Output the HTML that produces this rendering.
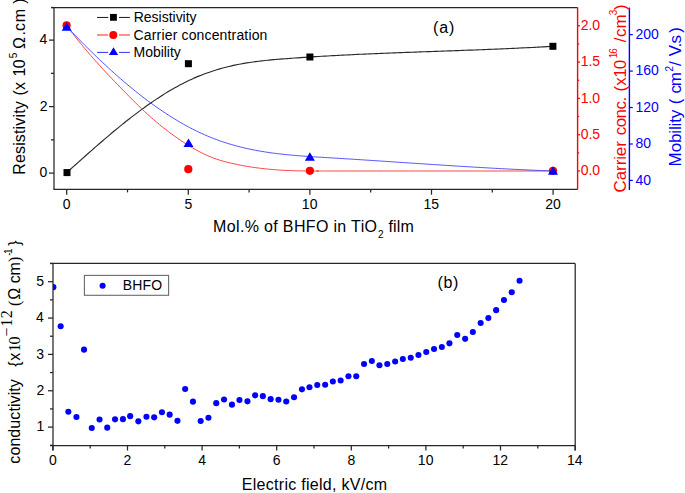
<!DOCTYPE html>
<html><head><meta charset="utf-8"><style>
html,body{margin:0;padding:0;background:#fff;overflow:hidden;}
svg{display:block;}
</style></head><body>
<svg width="685" height="493" viewBox="0 0 685 493">
<line x1="54.00" y1="7.50" x2="54.00" y2="189.40" stroke="#262626" stroke-width="1.25"/>
<line x1="51.00" y1="7.50" x2="577.60" y2="7.50" stroke="#262626" stroke-width="1.25"/>
<line x1="53.40" y1="189.40" x2="577.60" y2="189.40" stroke="#262626" stroke-width="1.25"/>
<line x1="49.00" y1="173.10" x2="54.00" y2="173.10" stroke="#262626" stroke-width="1.25"/>
<text x="39.56" y="177.40" style='font-family:"Liberation Sans",sans-serif;font-size:14px;fill:#000;'>0</text>
<line x1="51.00" y1="139.85" x2="54.00" y2="139.85" stroke="#262626" stroke-width="1.25"/>
<line x1="49.00" y1="106.60" x2="54.00" y2="106.60" stroke="#262626" stroke-width="1.25"/>
<text x="39.72" y="110.90" style='font-family:"Liberation Sans",sans-serif;font-size:14px;fill:#000;'>2</text>
<line x1="51.00" y1="73.35" x2="54.00" y2="73.35" stroke="#262626" stroke-width="1.25"/>
<line x1="49.00" y1="40.10" x2="54.00" y2="40.10" stroke="#262626" stroke-width="1.25"/>
<text x="39.42" y="44.40" style='font-family:"Liberation Sans",sans-serif;font-size:14px;fill:#000;'>4</text>
<line x1="51.00" y1="7.50" x2="54.00" y2="7.50" stroke="#262626" stroke-width="1.25"/>
<line x1="66.70" y1="189.40" x2="66.70" y2="194.70" stroke="#262626" stroke-width="1.25"/>
<text x="62.81" y="208.90" style='font-family:"Liberation Sans",sans-serif;font-size:14px;fill:#000;'>0</text>
<line x1="127.50" y1="189.40" x2="127.50" y2="192.40" stroke="#262626" stroke-width="1.25"/>
<line x1="188.30" y1="189.40" x2="188.30" y2="194.70" stroke="#262626" stroke-width="1.25"/>
<text x="184.42" y="208.90" style='font-family:"Liberation Sans",sans-serif;font-size:14px;fill:#000;'>5</text>
<line x1="249.10" y1="189.40" x2="249.10" y2="192.40" stroke="#262626" stroke-width="1.25"/>
<line x1="309.90" y1="189.40" x2="309.90" y2="194.70" stroke="#262626" stroke-width="1.25"/>
<text x="301.85" y="208.90" style='font-family:"Liberation Sans",sans-serif;font-size:14px;fill:#000;'>10</text>
<line x1="370.70" y1="189.40" x2="370.70" y2="192.40" stroke="#262626" stroke-width="1.25"/>
<line x1="431.50" y1="189.40" x2="431.50" y2="194.70" stroke="#262626" stroke-width="1.25"/>
<text x="423.47" y="208.90" style='font-family:"Liberation Sans",sans-serif;font-size:14px;fill:#000;'>15</text>
<line x1="492.30" y1="189.40" x2="492.30" y2="192.40" stroke="#262626" stroke-width="1.25"/>
<line x1="553.10" y1="189.40" x2="553.10" y2="194.70" stroke="#262626" stroke-width="1.25"/>
<text x="545.24" y="208.90" style='font-family:"Liberation Sans",sans-serif;font-size:14px;fill:#000;'>20</text>
<line x1="577.60" y1="7.40" x2="577.60" y2="189.50" stroke="#f00" stroke-width="1.4"/>
<line x1="577.60" y1="171.00" x2="580.10" y2="171.00" stroke="#f00" stroke-width="1.2"/>
<text x="580.7" y="175.20" style='font-family:"Liberation Sans",sans-serif;font-size:14px;fill:#f00;'>0.0</text>
<line x1="577.60" y1="152.85" x2="579.20" y2="152.85" stroke="#f00" stroke-width="1.2"/>
<line x1="577.60" y1="134.70" x2="580.10" y2="134.70" stroke="#f00" stroke-width="1.2"/>
<text x="580.7" y="138.90" style='font-family:"Liberation Sans",sans-serif;font-size:14px;fill:#f00;'>0.5</text>
<line x1="577.60" y1="116.55" x2="579.20" y2="116.55" stroke="#f00" stroke-width="1.2"/>
<line x1="577.60" y1="98.40" x2="580.10" y2="98.40" stroke="#f00" stroke-width="1.2"/>
<text x="580.7" y="102.60" style='font-family:"Liberation Sans",sans-serif;font-size:14px;fill:#f00;'>1.0</text>
<line x1="577.60" y1="80.25" x2="579.20" y2="80.25" stroke="#f00" stroke-width="1.2"/>
<line x1="577.60" y1="62.10" x2="580.10" y2="62.10" stroke="#f00" stroke-width="1.2"/>
<text x="580.7" y="66.30" style='font-family:"Liberation Sans",sans-serif;font-size:14px;fill:#f00;'>1.5</text>
<line x1="577.60" y1="43.95" x2="579.20" y2="43.95" stroke="#f00" stroke-width="1.2"/>
<line x1="577.60" y1="25.80" x2="580.10" y2="25.80" stroke="#f00" stroke-width="1.2"/>
<text x="580.7" y="30.00" style='font-family:"Liberation Sans",sans-serif;font-size:14px;fill:#f00;'>2.0</text>
<line x1="629.40" y1="7.60" x2="629.40" y2="190.00" stroke="#00f" stroke-width="1.4"/>
<line x1="629.40" y1="180.40" x2="632.80" y2="180.40" stroke="#00f" stroke-width="1.2"/>
<text x="635.5" y="184.60" style='font-family:"Liberation Sans",sans-serif;font-size:14px;fill:#00f;'>40</text>
<line x1="629.40" y1="144.00" x2="632.80" y2="144.00" stroke="#00f" stroke-width="1.2"/>
<text x="635.5" y="148.20" style='font-family:"Liberation Sans",sans-serif;font-size:14px;fill:#00f;'>80</text>
<line x1="629.40" y1="107.50" x2="632.80" y2="107.50" stroke="#00f" stroke-width="1.2"/>
<text x="635.5" y="111.70" style='font-family:"Liberation Sans",sans-serif;font-size:14px;fill:#00f;'>120</text>
<line x1="629.40" y1="71.10" x2="632.80" y2="71.10" stroke="#00f" stroke-width="1.2"/>
<text x="635.5" y="75.30" style='font-family:"Liberation Sans",sans-serif;font-size:14px;fill:#00f;'>160</text>
<line x1="629.40" y1="34.60" x2="632.80" y2="34.60" stroke="#00f" stroke-width="1.2"/>
<text x="635.5" y="38.80" style='font-family:"Liberation Sans",sans-serif;font-size:14px;fill:#00f;'>200</text>
<path d="M66.80,172.60 C67.30,172.15 68.80,170.80 69.80,169.89 C70.80,168.99 71.80,168.09 72.80,167.19 C73.80,166.29 74.80,165.39 75.80,164.50 C76.80,163.60 77.80,162.70 78.80,161.81 C79.80,160.91 80.80,160.02 81.80,159.12 C82.80,158.23 83.80,157.34 84.80,156.45 C85.80,155.56 86.80,154.67 87.80,153.79 C88.80,152.90 89.80,152.02 90.80,151.14 C91.80,150.26 92.80,149.38 93.80,148.50 C94.80,147.63 95.80,146.75 96.80,145.88 C97.80,145.01 98.80,144.14 99.80,143.28 C100.80,142.41 101.80,141.55 102.80,140.69 C103.80,139.83 104.80,138.98 105.80,138.12 C106.80,137.27 107.80,136.42 108.80,135.58 C109.80,134.73 110.80,133.89 111.80,133.06 C112.80,132.22 113.80,131.38 114.80,130.56 C115.80,129.73 116.80,128.90 117.80,128.08 C118.80,127.26 119.80,126.44 120.80,125.63 C121.80,124.82 122.80,124.02 123.80,123.21 C124.80,122.41 125.80,121.62 126.80,120.82 C127.80,120.03 128.80,119.25 129.80,118.47 C130.80,117.68 131.80,116.91 132.80,116.14 C133.80,115.37 134.80,114.61 135.80,113.85 C136.80,113.09 137.80,112.34 138.80,111.59 C139.80,110.84 140.80,110.10 141.80,109.37 C142.80,108.64 143.80,107.91 144.80,107.19 C145.80,106.47 146.80,105.76 147.80,105.05 C148.80,104.34 149.80,103.64 150.80,102.95 C151.80,102.26 152.80,101.57 153.80,100.89 C154.80,100.21 155.80,99.54 156.80,98.88 C157.80,98.21 158.80,97.56 159.80,96.91 C160.80,96.26 161.80,95.62 162.80,94.99 C163.80,94.36 164.80,93.73 165.80,93.12 C166.80,92.50 167.80,91.90 168.80,91.30 C169.80,90.70 170.80,90.11 171.80,89.53 C172.80,88.94 173.80,88.37 174.80,87.81 C175.80,87.25 176.80,86.69 177.80,86.15 C178.80,85.60 179.80,85.06 180.80,84.54 C181.80,84.01 182.80,83.50 183.80,82.99 C184.80,82.48 185.80,81.98 186.80,81.50 C187.80,81.01 188.80,80.53 189.80,80.07 C190.80,79.60 191.80,79.14 192.80,78.70 C193.80,78.25 194.80,77.81 195.80,77.39 C196.80,76.96 197.80,76.54 198.80,76.14 C199.80,75.73 200.80,75.33 201.80,74.94 C202.80,74.55 203.80,74.17 204.80,73.80 C205.80,73.43 206.80,73.07 207.80,72.72 C208.80,72.37 209.80,72.02 210.80,71.69 C211.80,71.36 212.80,71.03 213.80,70.71 C214.80,70.39 215.80,70.08 216.80,69.78 C217.80,69.48 218.80,69.19 219.80,68.90 C220.80,68.62 221.80,68.34 222.80,68.07 C223.80,67.80 224.80,67.54 225.80,67.28 C226.80,67.03 227.80,66.78 228.80,66.54 C229.80,66.30 230.80,66.07 231.80,65.84 C232.80,65.61 233.80,65.39 234.80,65.18 C235.80,64.97 236.80,64.76 237.80,64.56 C238.80,64.36 239.80,64.17 240.80,63.98 C241.80,63.80 242.80,63.62 243.80,63.44 C244.80,63.27 245.80,63.10 246.80,62.93 C247.80,62.77 248.80,62.61 249.80,62.46 C250.80,62.31 251.80,62.16 252.80,62.02 C253.80,61.88 254.80,61.74 255.80,61.61 C256.80,61.48 257.80,61.35 258.80,61.23 C259.80,61.11 260.80,60.99 261.80,60.88 C262.80,60.76 263.80,60.65 264.80,60.55 C265.80,60.44 266.80,60.34 267.80,60.24 C268.80,60.14 269.80,60.04 270.80,59.94 C271.80,59.85 272.80,59.76 273.80,59.67 C274.80,59.58 275.80,59.50 276.80,59.41 C277.80,59.33 278.80,59.24 279.80,59.16 C280.80,59.08 281.80,59.00 282.80,58.93 C283.80,58.85 284.80,58.77 285.80,58.70 C286.80,58.62 287.80,58.55 288.80,58.47 C289.80,58.40 290.80,58.32 291.80,58.25 C292.80,58.18 293.80,58.11 294.80,58.04 C295.80,57.97 296.80,57.90 297.80,57.83 C298.80,57.76 299.80,57.69 300.80,57.62 C301.80,57.55 302.80,57.48 303.80,57.42 C304.80,57.35 305.80,57.29 306.80,57.22 C307.80,57.16 308.80,57.09 309.80,57.03 C310.80,56.96 311.80,56.90 312.80,56.84 C313.80,56.77 314.80,56.71 315.80,56.65 C316.80,56.59 317.80,56.53 318.80,56.47 C319.80,56.41 320.80,56.35 321.80,56.29 C322.80,56.23 323.80,56.17 324.80,56.12 C325.80,56.06 326.80,56.00 327.80,55.95 C328.80,55.89 329.80,55.83 330.80,55.78 C331.80,55.72 332.80,55.67 333.80,55.61 C334.80,55.56 335.80,55.51 336.80,55.45 C337.80,55.40 338.80,55.35 339.80,55.30 C340.80,55.24 341.80,55.19 342.80,55.14 C343.80,55.09 344.80,55.04 345.80,54.99 C346.80,54.94 347.80,54.89 348.80,54.84 C349.80,54.79 350.80,54.74 351.80,54.70 C352.80,54.65 353.80,54.60 354.80,54.55 C355.80,54.51 356.80,54.46 357.80,54.41 C358.80,54.37 359.80,54.32 360.80,54.27 C361.80,54.23 362.80,54.18 363.80,54.14 C364.80,54.09 365.80,54.05 366.80,54.00 C367.80,53.96 368.80,53.92 369.80,53.87 C370.80,53.83 371.80,53.79 372.80,53.74 C373.80,53.70 374.80,53.66 375.80,53.62 C376.80,53.58 377.80,53.53 378.80,53.49 C379.80,53.45 380.80,53.41 381.80,53.37 C382.80,53.33 383.80,53.29 384.80,53.25 C385.80,53.21 386.80,53.17 387.80,53.13 C388.80,53.09 389.80,53.05 390.80,53.01 C391.80,52.97 392.80,52.93 393.80,52.89 C394.80,52.85 395.80,52.82 396.80,52.78 C397.80,52.74 398.80,52.70 399.80,52.66 C400.80,52.63 401.80,52.59 402.80,52.55 C403.80,52.51 404.80,52.48 405.80,52.44 C406.80,52.40 407.80,52.36 408.80,52.33 C409.80,52.29 410.80,52.25 411.80,52.22 C412.80,52.18 413.80,52.14 414.80,52.11 C415.80,52.07 416.80,52.04 417.80,52.00 C418.80,51.96 419.80,51.93 420.80,51.89 C421.80,51.86 422.80,51.82 423.80,51.78 C424.80,51.75 425.80,51.71 426.80,51.68 C427.80,51.64 428.80,51.61 429.80,51.57 C430.80,51.54 431.80,51.50 432.80,51.46 C433.80,51.43 434.80,51.39 435.80,51.36 C436.80,51.32 437.80,51.29 438.80,51.25 C439.80,51.22 440.80,51.18 441.80,51.15 C442.80,51.11 443.80,51.08 444.80,51.04 C445.80,51.00 446.80,50.97 447.80,50.93 C448.80,50.90 449.80,50.86 450.80,50.83 C451.80,50.79 452.80,50.75 453.80,50.72 C454.80,50.68 455.80,50.65 456.80,50.61 C457.80,50.57 458.80,50.54 459.80,50.50 C460.80,50.47 461.80,50.43 462.80,50.39 C463.80,50.36 464.80,50.32 465.80,50.28 C466.80,50.25 467.80,50.21 468.80,50.17 C469.80,50.13 470.80,50.10 471.80,50.06 C472.80,50.02 473.80,49.98 474.80,49.95 C475.80,49.91 476.80,49.87 477.80,49.83 C478.80,49.79 479.80,49.76 480.80,49.72 C481.80,49.68 482.80,49.64 483.80,49.60 C484.80,49.56 485.80,49.52 486.80,49.48 C487.80,49.44 488.80,49.40 489.80,49.36 C490.80,49.32 491.80,49.28 492.80,49.24 C493.80,49.20 494.80,49.16 495.80,49.12 C496.80,49.08 497.80,49.03 498.80,48.99 C499.80,48.95 500.80,48.91 501.80,48.86 C502.80,48.82 503.80,48.78 504.80,48.73 C505.80,48.69 506.80,48.65 507.80,48.60 C508.80,48.56 509.80,48.51 510.80,48.47 C511.80,48.42 512.80,48.38 513.80,48.33 C514.80,48.29 515.80,48.24 516.80,48.20 C517.80,48.15 518.80,48.10 519.80,48.05 C520.80,48.01 521.80,47.96 522.80,47.91 C523.80,47.86 524.80,47.81 525.80,47.76 C526.80,47.72 527.80,47.67 528.80,47.62 C529.80,47.57 530.80,47.52 531.80,47.46 C532.80,47.41 533.80,47.36 534.80,47.31 C535.80,47.26 536.80,47.20 537.80,47.15 C538.80,47.10 539.80,47.04 540.80,46.99 C541.80,46.94 542.80,46.88 543.80,46.83 C544.80,46.77 545.80,46.71 546.80,46.66 C547.80,46.60 548.80,46.54 549.80,46.49 C550.80,46.43 552.27,46.34 552.80,46.31 C553.33,46.28 552.97,46.30 553.00,46.30" fill="none" stroke="#2a2a2a" stroke-width="1.15"/>
<path d="M66.60,25.40 C67.10,26.07 68.60,28.10 69.60,29.43 C70.60,30.75 71.60,32.06 72.60,33.36 C73.60,34.66 74.60,35.94 75.60,37.21 C76.60,38.48 77.60,39.74 78.60,40.98 C79.60,42.22 80.60,43.45 81.60,44.67 C82.60,45.89 83.60,47.10 84.60,48.29 C85.60,49.49 86.60,50.67 87.60,51.84 C88.60,53.01 89.60,54.18 90.60,55.33 C91.60,56.48 92.60,57.62 93.60,58.76 C94.60,59.89 95.60,61.01 96.60,62.13 C97.60,63.24 98.60,64.35 99.60,65.45 C100.60,66.55 101.60,67.64 102.60,68.73 C103.60,69.81 104.60,70.89 105.60,71.96 C106.60,73.04 107.60,74.10 108.60,75.16 C109.60,76.22 110.60,77.28 111.60,78.33 C112.60,79.38 113.60,80.42 114.60,81.47 C115.60,82.51 116.60,83.54 117.60,84.58 C118.60,85.61 119.60,86.64 120.60,87.67 C121.60,88.70 122.60,89.73 123.60,90.75 C124.60,91.78 125.60,92.80 126.60,93.82 C127.60,94.84 128.60,95.85 129.60,96.87 C130.60,97.88 131.60,98.88 132.60,99.88 C133.60,100.88 134.60,101.88 135.60,102.87 C136.60,103.85 137.60,104.84 138.60,105.81 C139.60,106.78 140.60,107.74 141.60,108.70 C142.60,109.65 143.60,110.60 144.60,111.53 C145.60,112.47 146.60,113.39 147.60,114.30 C148.60,115.21 149.60,116.11 150.60,117.00 C151.60,117.89 152.60,118.76 153.60,119.62 C154.60,120.49 155.60,121.34 156.60,122.17 C157.60,123.01 158.60,123.84 159.60,124.66 C160.60,125.47 161.60,126.28 162.60,127.08 C163.60,127.87 164.60,128.66 165.60,129.43 C166.60,130.21 167.60,130.98 168.60,131.74 C169.60,132.50 170.60,133.25 171.60,133.99 C172.60,134.73 173.60,135.45 174.60,136.17 C175.60,136.89 176.60,137.60 177.60,138.29 C178.60,138.99 179.60,139.67 180.60,140.35 C181.60,141.02 182.60,141.69 183.60,142.34 C184.60,142.99 185.60,143.63 186.60,144.26 C187.60,144.89 188.60,145.51 189.60,146.11 C190.60,146.72 191.60,147.31 192.60,147.90 C193.60,148.48 194.60,149.05 195.60,149.61 C196.60,150.17 197.60,150.72 198.60,151.26 C199.60,151.79 200.60,152.31 201.60,152.82 C202.60,153.33 203.60,153.82 204.60,154.29 C205.60,154.77 206.60,155.23 207.60,155.67 C208.60,156.11 209.60,156.53 210.60,156.93 C211.60,157.34 212.60,157.72 213.60,158.09 C214.60,158.46 215.60,158.81 216.60,159.15 C217.60,159.48 218.60,159.80 219.60,160.11 C220.60,160.42 221.60,160.71 222.60,161.00 C223.60,161.28 224.60,161.55 225.60,161.82 C226.60,162.08 227.60,162.33 228.60,162.58 C229.60,162.82 230.60,163.06 231.60,163.29 C232.60,163.52 233.60,163.75 234.60,163.97 C235.60,164.19 236.60,164.40 237.60,164.60 C238.60,164.81 239.60,165.01 240.60,165.20 C241.60,165.40 242.60,165.58 243.60,165.76 C244.60,165.95 245.60,166.12 246.60,166.29 C247.60,166.46 248.60,166.62 249.60,166.78 C250.60,166.94 251.60,167.09 252.60,167.24 C253.60,167.39 254.60,167.53 255.60,167.67 C256.60,167.80 257.60,167.93 258.60,168.06 C259.60,168.19 260.60,168.31 261.60,168.42 C262.60,168.54 263.60,168.65 264.60,168.76 C265.60,168.87 266.60,168.97 267.60,169.07 C268.60,169.16 269.60,169.26 270.60,169.35 C271.60,169.44 272.60,169.52 273.60,169.60 C274.60,169.68 275.60,169.76 276.60,169.83 C277.60,169.90 278.60,169.97 279.60,170.04 C280.60,170.10 281.60,170.16 282.60,170.22 C283.60,170.28 284.60,170.33 285.60,170.38 C286.60,170.43 287.60,170.48 288.60,170.52 C289.60,170.56 290.60,170.60 291.60,170.64 C292.60,170.68 293.60,170.71 294.60,170.74 C295.60,170.77 296.60,170.80 297.60,170.83 C298.60,170.85 299.60,170.87 300.60,170.89 C301.60,170.91 302.60,170.93 303.60,170.95 C304.60,170.96 305.60,170.98 306.60,170.99 C307.60,171.00 308.60,171.01 309.60,171.01 C310.60,171.02 311.60,171.02 312.60,171.03 C313.60,171.03 314.60,171.03 315.60,171.03 C316.60,171.03 317.87,171.02 318.60,171.02 C319.33,171.02 313.10,171.02 320.00,171.01 C326.90,171.01 321.17,171.00 360.00,171.00 C398.83,171.00 520.83,171.00 553.00,171.00" fill="none" stroke="#ff3030" stroke-width="0.9"/>
<path d="M66.70,26.50 C67.20,27.03 68.70,28.62 69.70,29.67 C70.70,30.72 71.70,31.77 72.70,32.81 C73.70,33.86 74.70,34.89 75.70,35.93 C76.70,36.96 77.70,37.99 78.70,39.01 C79.70,40.04 80.70,41.06 81.70,42.07 C82.70,43.08 83.70,44.09 84.70,45.10 C85.70,46.10 86.70,47.10 87.70,48.09 C88.70,49.09 89.70,50.07 90.70,51.06 C91.70,52.04 92.70,53.02 93.70,53.99 C94.70,54.96 95.70,55.93 96.70,56.89 C97.70,57.85 98.70,58.81 99.70,59.76 C100.70,60.71 101.70,61.66 102.70,62.59 C103.70,63.53 104.70,64.47 105.70,65.40 C106.70,66.32 107.70,67.24 108.70,68.16 C109.70,69.08 110.70,69.99 111.70,70.89 C112.70,71.80 113.70,72.69 114.70,73.59 C115.70,74.48 116.70,75.36 117.70,76.24 C118.70,77.12 119.70,78.00 120.70,78.87 C121.70,79.73 122.70,80.59 123.70,81.45 C124.70,82.30 125.70,83.15 126.70,83.99 C127.70,84.84 128.70,85.67 129.70,86.50 C130.70,87.33 131.70,88.15 132.70,88.97 C133.70,89.78 134.70,90.59 135.70,91.39 C136.70,92.20 137.70,92.99 138.70,93.78 C139.70,94.57 140.70,95.35 141.70,96.13 C142.70,96.90 143.70,97.67 144.70,98.43 C145.70,99.19 146.70,99.94 147.70,100.69 C148.70,101.44 149.70,102.18 150.70,102.91 C151.70,103.64 152.70,104.37 153.70,105.08 C154.70,105.80 155.70,106.51 156.70,107.21 C157.70,107.92 158.70,108.61 159.70,109.30 C160.70,109.99 161.70,110.67 162.70,111.34 C163.70,112.01 164.70,112.68 165.70,113.33 C166.70,113.99 167.70,114.64 168.70,115.28 C169.70,115.92 170.70,116.56 171.70,117.18 C172.70,117.81 173.70,118.42 174.70,119.03 C175.70,119.64 176.70,120.25 177.70,120.84 C178.70,121.43 179.70,122.02 180.70,122.59 C181.70,123.17 182.70,123.74 183.70,124.30 C184.70,124.86 185.70,125.41 186.70,125.96 C187.70,126.50 188.70,127.04 189.70,127.56 C190.70,128.09 191.70,128.61 192.70,129.12 C193.70,129.62 194.70,130.13 195.70,130.62 C196.70,131.11 197.70,131.59 198.70,132.07 C199.70,132.54 200.70,133.01 201.70,133.46 C202.70,133.92 203.70,134.37 204.70,134.81 C205.70,135.25 206.70,135.68 207.70,136.10 C208.70,136.52 209.70,136.93 210.70,137.34 C211.70,137.74 212.70,138.14 213.70,138.53 C214.70,138.91 215.70,139.29 216.70,139.66 C217.70,140.03 218.70,140.39 219.70,140.75 C220.70,141.10 221.70,141.45 222.70,141.79 C223.70,142.12 224.70,142.45 225.70,142.77 C226.70,143.10 227.70,143.41 228.70,143.72 C229.70,144.02 230.70,144.32 231.70,144.61 C232.70,144.90 233.70,145.19 234.70,145.46 C235.70,145.74 236.70,146.01 237.70,146.27 C238.70,146.54 239.70,146.79 240.70,147.04 C241.70,147.29 242.70,147.54 243.70,147.77 C244.70,148.01 245.70,148.24 246.70,148.46 C247.70,148.69 248.70,148.90 249.70,149.12 C250.70,149.33 251.70,149.53 252.70,149.73 C253.70,149.93 254.70,150.13 255.70,150.32 C256.70,150.51 257.70,150.69 258.70,150.87 C259.70,151.04 260.70,151.22 261.70,151.39 C262.70,151.55 263.70,151.72 264.70,151.87 C265.70,152.03 266.70,152.19 267.70,152.33 C268.70,152.48 269.70,152.63 270.70,152.77 C271.70,152.91 272.70,153.04 273.70,153.17 C274.70,153.31 275.70,153.43 276.70,153.56 C277.70,153.68 278.70,153.80 279.70,153.92 C280.70,154.03 281.70,154.15 282.70,154.25 C283.70,154.36 284.70,154.47 285.70,154.57 C286.70,154.67 287.70,154.77 288.70,154.87 C289.70,154.97 290.70,155.06 291.70,155.15 C292.70,155.24 293.70,155.33 294.70,155.42 C295.70,155.50 296.70,155.59 297.70,155.67 C298.70,155.75 299.70,155.83 300.70,155.90 C301.70,155.98 302.70,156.06 303.70,156.13 C304.70,156.20 305.70,156.27 306.70,156.34 C307.70,156.41 308.70,156.48 309.70,156.55 C310.70,156.62 311.70,156.68 312.70,156.75 C313.70,156.81 314.70,156.87 315.70,156.94 C316.70,157.00 317.70,157.06 318.70,157.12 C319.70,157.19 320.70,157.25 321.70,157.31 C322.70,157.37 323.70,157.43 324.70,157.49 C325.70,157.55 326.70,157.61 327.70,157.67 C328.70,157.73 329.70,157.79 330.70,157.85 C331.70,157.91 332.70,157.97 333.70,158.03 C334.70,158.09 335.70,158.15 336.70,158.21 C337.70,158.27 338.70,158.34 339.70,158.40 C340.70,158.46 341.70,158.52 342.70,158.58 C343.70,158.65 344.70,158.71 345.70,158.77 C346.70,158.84 347.70,158.90 348.70,158.96 C349.70,159.03 350.70,159.09 351.70,159.15 C352.70,159.22 353.70,159.28 354.70,159.34 C355.70,159.41 356.70,159.47 357.70,159.54 C358.70,159.60 359.70,159.67 360.70,159.73 C361.70,159.80 362.70,159.86 363.70,159.93 C364.70,159.99 365.70,160.06 366.70,160.12 C367.70,160.19 368.70,160.25 369.70,160.32 C370.70,160.38 371.70,160.45 372.70,160.51 C373.70,160.58 374.70,160.65 375.70,160.71 C376.70,160.78 377.70,160.84 378.70,160.91 C379.70,160.98 380.70,161.04 381.70,161.11 C382.70,161.18 383.70,161.24 384.70,161.31 C385.70,161.38 386.70,161.44 387.70,161.51 C388.70,161.58 389.70,161.64 390.70,161.71 C391.70,161.78 392.70,161.84 393.70,161.91 C394.70,161.98 395.70,162.04 396.70,162.11 C397.70,162.18 398.70,162.24 399.70,162.31 C400.70,162.38 401.70,162.44 402.70,162.51 C403.70,162.58 404.70,162.65 405.70,162.71 C406.70,162.78 407.70,162.85 408.70,162.91 C409.70,162.98 410.70,163.05 411.70,163.11 C412.70,163.18 413.70,163.25 414.70,163.31 C415.70,163.38 416.70,163.45 417.70,163.51 C418.70,163.58 419.70,163.65 420.70,163.71 C421.70,163.78 422.70,163.84 423.70,163.91 C424.70,163.98 425.70,164.04 426.70,164.11 C427.70,164.18 428.70,164.24 429.70,164.31 C430.70,164.37 431.70,164.44 432.70,164.50 C433.70,164.57 434.70,164.63 435.70,164.70 C436.70,164.77 437.70,164.83 438.70,164.90 C439.70,164.96 440.70,165.03 441.70,165.09 C442.70,165.15 443.70,165.22 444.70,165.28 C445.70,165.35 446.70,165.41 447.70,165.48 C448.70,165.54 449.70,165.60 450.70,165.67 C451.70,165.73 452.70,165.79 453.70,165.86 C454.70,165.92 455.70,165.98 456.70,166.05 C457.70,166.11 458.70,166.17 459.70,166.23 C460.70,166.30 461.70,166.36 462.70,166.42 C463.70,166.48 464.70,166.54 465.70,166.60 C466.70,166.67 467.70,166.73 468.70,166.79 C469.70,166.85 470.70,166.91 471.70,166.97 C472.70,167.03 473.70,167.09 474.70,167.15 C475.70,167.21 476.70,167.27 477.70,167.33 C478.70,167.39 479.70,167.44 480.70,167.50 C481.70,167.56 482.70,167.62 483.70,167.68 C484.70,167.73 485.70,167.79 486.70,167.85 C487.70,167.91 488.70,167.96 489.70,168.02 C490.70,168.08 491.70,168.13 492.70,168.19 C493.70,168.24 494.70,168.30 495.70,168.35 C496.70,168.41 497.70,168.46 498.70,168.52 C499.70,168.57 500.70,168.62 501.70,168.68 C502.70,168.73 503.70,168.78 504.70,168.84 C505.70,168.89 506.70,168.94 507.70,168.99 C508.70,169.04 509.70,169.10 510.70,169.15 C511.70,169.20 512.70,169.25 513.70,169.30 C514.70,169.35 515.70,169.40 516.70,169.45 C517.70,169.49 518.70,169.54 519.70,169.59 C520.70,169.64 521.70,169.69 522.70,169.73 C523.70,169.78 524.70,169.83 525.70,169.87 C526.70,169.92 527.70,169.97 528.70,170.01 C529.70,170.06 530.70,170.10 531.70,170.14 C532.70,170.19 533.70,170.23 534.70,170.28 C535.70,170.32 536.70,170.36 537.70,170.40 C538.70,170.44 539.70,170.49 540.70,170.53 C541.70,170.57 542.70,170.61 543.70,170.65 C544.70,170.69 545.70,170.73 546.70,170.76 C547.70,170.80 548.70,170.84 549.70,170.88 C550.70,170.92 552.15,170.97 552.70,170.99 C553.25,171.01 552.95,171.00 553.00,171.00" fill="none" stroke="#4040ff" stroke-width="0.9"/>
<rect x="63.50" y="169.10" width="7" height="7" fill="#000"/>
<rect x="184.90" y="60.20" width="7" height="7" fill="#000"/>
<rect x="306.40" y="53.50" width="7" height="7" fill="#000"/>
<rect x="549.40" y="42.80" width="7" height="7" fill="#000"/>
<circle cx="66.60" cy="25.40" r="4.1" fill="#f00"/>
<circle cx="188.30" cy="169.20" r="4.1" fill="#f00"/>
<circle cx="309.90" cy="170.80" r="4.1" fill="#f00"/>
<circle cx="553.00" cy="170.80" r="4.1" fill="#f00"/>
<path d="M66.70,22.30 L71.70,30.70 L61.70,30.70 Z" fill="#00f"/>
<path d="M188.50,138.60 L193.50,147.00 L183.50,147.00 Z" fill="#00f"/>
<path d="M309.90,152.30 L314.90,160.70 L304.90,160.70 Z" fill="#00f"/>
<path d="M553.00,166.30 L558.00,174.70 L548.00,174.70 Z" fill="#00f"/>
<line x1="97.05" y1="17.45" x2="108.20" y2="17.45" stroke="#1a1a1a" stroke-width="1"/>
<line x1="119.00" y1="17.45" x2="129.90" y2="17.45" stroke="#1a1a1a" stroke-width="1"/>
<rect x="110.05" y="13.95" width="6.8" height="6.8" fill="#000"/>
<line x1="97.05" y1="35.00" x2="108.20" y2="35.00" stroke="#ff2020" stroke-width="1"/>
<line x1="119.00" y1="35.00" x2="129.90" y2="35.00" stroke="#ff2020" stroke-width="1"/>
<circle cx="113.30" cy="34.95" r="4.0" fill="#f00"/>
<line x1="97.05" y1="52.40" x2="108.20" y2="52.40" stroke="#3030ff" stroke-width="1"/>
<line x1="119.00" y1="52.40" x2="129.90" y2="52.40" stroke="#3030ff" stroke-width="1"/>
<path d="M113.50,47.30 L118.15,55.10 L108.85,55.10 Z" fill="#00f"/>
<text x="133.65" y="21.80" style='font-family:"Liberation Sans",sans-serif;font-size:14px;fill:#000;letter-spacing:-0.003px;'>Resistivity</text>
<text x="133.59" y="39.55" style='font-family:"Liberation Sans",sans-serif;font-size:14px;fill:#000;letter-spacing:0.155px;'>Carrier concentration</text>
<text x="133.55" y="57.30" style='font-family:"Liberation Sans",sans-serif;font-size:14px;fill:#000;letter-spacing:-0.026px;'>Mobility</text>
<text x="432.91" y="32.50" style='font-family:"Liberation Sans",sans-serif;font-size:16px;fill:#000;letter-spacing:0.965px;'>(a)</text>
<text x="213.09" y="231.50" style='font-family:"Liberation Sans",sans-serif;font-size:16px;fill:#000;letter-spacing:0.344px;'>Mol.% of BHFO in TiO</text>
<text x="378.00" y="237.60" style='font-family:"Liberation Sans",sans-serif;font-size:10px;fill:#000;'>2</text>
<text x="388.57" y="231.50" style='font-family:"Liberation Sans",sans-serif;font-size:16px;fill:#000;letter-spacing:0.099px;'>film</text>
<text transform="translate(25.00,174.71) rotate(-90)" style='font-family:"Liberation Sans",sans-serif;font-size:16px;fill:#000;letter-spacing:0.144px;'>Resistivity</text>
<text transform="translate(25.00,95.49) rotate(-90)" style='font-family:"Liberation Sans",sans-serif;font-size:16px;fill:#000;'>(</text>
<text transform="translate(25.00,89.88) rotate(-90)" style='font-family:"Liberation Sans",sans-serif;font-size:16px;fill:#000;'>x</text>
<text transform="translate(25.00,76.52) rotate(-90)" style='font-family:"Liberation Sans",sans-serif;font-size:16px;fill:#000;letter-spacing:-0.653px;'>10</text>
<text transform="translate(17.10,58.20) rotate(-90)" style='font-family:"Liberation Sans",sans-serif;font-size:10px;fill:#000;'>5</text>
<text transform="translate(25.00,48.98) rotate(-90)" style='font-family:"Liberation Sans",sans-serif;font-size:16px;fill:#000;'>Ω</text>
<text transform="translate(25.00,35.46) rotate(-90)" style='font-family:"Liberation Sans",sans-serif;font-size:16px;fill:#000;'>.</text>
<text transform="translate(25.00,31.08) rotate(-90)" style='font-family:"Liberation Sans",sans-serif;font-size:16px;fill:#000;letter-spacing:0.806px;'>cm</text>
<text transform="translate(25.00,3.69) rotate(-90)" style='font-family:"Liberation Sans",sans-serif;font-size:16px;fill:#000;'>)</text>
<text transform="translate(625.60,192.46) rotate(-90)" style='font-family:"Liberation Sans",sans-serif;font-size:17px;fill:#f00;letter-spacing:-0.100px;'>Carrier</text>
<text transform="translate(625.60,135.32) rotate(-90)" style='font-family:"Liberation Sans",sans-serif;font-size:17px;fill:#f00;letter-spacing:-0.514px;'>conc.</text>
<text transform="translate(625.60,91.55) rotate(-90)" style='font-family:"Liberation Sans",sans-serif;font-size:17px;fill:#f00;'>(</text>
<text transform="translate(625.60,85.69) rotate(-90)" style='font-family:"Liberation Sans",sans-serif;font-size:17px;fill:#f00;'>x</text>
<text transform="translate(625.60,77.79) rotate(-90)" style='font-family:"Liberation Sans",sans-serif;font-size:17px;fill:#f00;letter-spacing:-0.850px;'>10</text>
<text transform="translate(617.20,58.36) rotate(-90)" style='font-family:"Liberation Sans",sans-serif;font-size:10px;fill:#f00;letter-spacing:-1.022px;'>16</text>
<text transform="translate(625.60,42.30) rotate(-90)" style='font-family:"Liberation Sans",sans-serif;font-size:17px;fill:#f00;'>/</text>
<text transform="translate(625.60,36.92) rotate(-90)" style='font-family:"Liberation Sans",sans-serif;font-size:17px;fill:#f00;letter-spacing:-0.118px;'>cm</text>
<text transform="translate(617.20,15.28) rotate(-90)" style='font-family:"Liberation Sans",sans-serif;font-size:10px;fill:#f00;'>3</text>
<text transform="translate(625.60,9.90) rotate(-90)" style='font-family:"Liberation Sans",sans-serif;font-size:17px;fill:#f00;'>)</text>
<text transform="translate(681.00,166.39) rotate(-90)" style='font-family:"Liberation Sans",sans-serif;font-size:17px;fill:#00f;letter-spacing:-0.128px;'>Mobility</text>
<text transform="translate(681.00,104.15) rotate(-90)" style='font-family:"Liberation Sans",sans-serif;font-size:17px;fill:#00f;'>(</text>
<text transform="translate(681.00,93.42) rotate(-90)" style='font-family:"Liberation Sans",sans-serif;font-size:17px;fill:#00f;letter-spacing:-1.418px;'>cm</text>
<text transform="translate(673.00,71.50) rotate(-90)" style='font-family:"Liberation Sans",sans-serif;font-size:10px;fill:#00f;'>2</text>
<text transform="translate(681.00,65.90) rotate(-90)" style='font-family:"Liberation Sans",sans-serif;font-size:17px;fill:#00f;'>/</text>
<text transform="translate(681.00,56.27) rotate(-90)" style='font-family:"Liberation Sans",sans-serif;font-size:17px;fill:#00f;letter-spacing:-0.887px;'>V.s</text>
<text transform="translate(681.00,32.80) rotate(-90)" style='font-family:"Liberation Sans",sans-serif;font-size:17px;fill:#00f;'>)</text>
<line x1="53.00" y1="263.40" x2="53.00" y2="450.50" stroke="#262626" stroke-width="1.25"/>
<line x1="50.00" y1="445.50" x2="575.20" y2="445.50" stroke="#262626" stroke-width="1.25"/>
<line x1="50.00" y1="263.40" x2="575.20" y2="263.40" stroke="#262626" stroke-width="1.25"/>
<line x1="575.20" y1="263.40" x2="575.20" y2="450.50" stroke="#262626" stroke-width="1.25"/>
<line x1="50.00" y1="445.27" x2="53.00" y2="445.27" stroke="#262626" stroke-width="1.25"/>
<line x1="48.00" y1="427.10" x2="53.00" y2="427.10" stroke="#262626" stroke-width="1.25"/>
<text x="36.40" y="431.40" style='font-family:"Liberation Sans",sans-serif;font-size:14px;fill:#000;'>1</text>
<line x1="50.00" y1="408.93" x2="53.00" y2="408.93" stroke="#262626" stroke-width="1.25"/>
<line x1="48.00" y1="390.75" x2="53.00" y2="390.75" stroke="#262626" stroke-width="1.25"/>
<text x="36.42" y="395.05" style='font-family:"Liberation Sans",sans-serif;font-size:14px;fill:#000;'>2</text>
<line x1="50.00" y1="372.57" x2="53.00" y2="372.57" stroke="#262626" stroke-width="1.25"/>
<line x1="48.00" y1="354.40" x2="53.00" y2="354.40" stroke="#262626" stroke-width="1.25"/>
<text x="36.33" y="358.70" style='font-family:"Liberation Sans",sans-serif;font-size:14px;fill:#000;'>3</text>
<line x1="50.00" y1="336.23" x2="53.00" y2="336.23" stroke="#262626" stroke-width="1.25"/>
<line x1="48.00" y1="318.05" x2="53.00" y2="318.05" stroke="#262626" stroke-width="1.25"/>
<text x="36.12" y="322.35" style='font-family:"Liberation Sans",sans-serif;font-size:14px;fill:#000;'>4</text>
<line x1="50.00" y1="299.88" x2="53.00" y2="299.88" stroke="#262626" stroke-width="1.25"/>
<line x1="48.00" y1="281.70" x2="53.00" y2="281.70" stroke="#262626" stroke-width="1.25"/>
<text x="36.30" y="286.00" style='font-family:"Liberation Sans",sans-serif;font-size:14px;fill:#000;'>5</text>
<line x1="50.00" y1="263.52" x2="53.00" y2="263.52" stroke="#262626" stroke-width="1.25"/>
<line x1="52.90" y1="445.50" x2="52.90" y2="450.50" stroke="#262626" stroke-width="1.25"/>
<text x="49.01" y="464.50" style='font-family:"Liberation Sans",sans-serif;font-size:14px;fill:#000;'>0</text>
<line x1="90.20" y1="445.50" x2="90.20" y2="448.50" stroke="#262626" stroke-width="1.25"/>
<line x1="127.50" y1="445.50" x2="127.50" y2="450.50" stroke="#262626" stroke-width="1.25"/>
<text x="123.61" y="464.50" style='font-family:"Liberation Sans",sans-serif;font-size:14px;fill:#000;'>2</text>
<line x1="164.80" y1="445.50" x2="164.80" y2="448.50" stroke="#262626" stroke-width="1.25"/>
<line x1="202.10" y1="445.50" x2="202.10" y2="450.50" stroke="#262626" stroke-width="1.25"/>
<text x="198.25" y="464.50" style='font-family:"Liberation Sans",sans-serif;font-size:14px;fill:#000;'>4</text>
<line x1="239.40" y1="445.50" x2="239.40" y2="448.50" stroke="#262626" stroke-width="1.25"/>
<line x1="276.70" y1="445.50" x2="276.70" y2="450.50" stroke="#262626" stroke-width="1.25"/>
<text x="272.76" y="464.50" style='font-family:"Liberation Sans",sans-serif;font-size:14px;fill:#000;'>6</text>
<line x1="314.00" y1="445.50" x2="314.00" y2="448.50" stroke="#262626" stroke-width="1.25"/>
<line x1="351.30" y1="445.50" x2="351.30" y2="450.50" stroke="#262626" stroke-width="1.25"/>
<text x="347.41" y="464.50" style='font-family:"Liberation Sans",sans-serif;font-size:14px;fill:#000;'>8</text>
<line x1="388.60" y1="445.50" x2="388.60" y2="448.50" stroke="#262626" stroke-width="1.25"/>
<line x1="425.90" y1="445.50" x2="425.90" y2="450.50" stroke="#262626" stroke-width="1.25"/>
<text x="417.85" y="464.50" style='font-family:"Liberation Sans",sans-serif;font-size:14px;fill:#000;'>10</text>
<line x1="463.20" y1="445.50" x2="463.20" y2="448.50" stroke="#262626" stroke-width="1.25"/>
<line x1="500.50" y1="445.50" x2="500.50" y2="450.50" stroke="#262626" stroke-width="1.25"/>
<text x="492.53" y="464.50" style='font-family:"Liberation Sans",sans-serif;font-size:14px;fill:#000;'>12</text>
<line x1="537.80" y1="445.50" x2="537.80" y2="448.50" stroke="#262626" stroke-width="1.25"/>
<line x1="575.10" y1="445.50" x2="575.10" y2="450.50" stroke="#262626" stroke-width="1.25"/>
<text x="566.99" y="464.50" style='font-family:"Liberation Sans",sans-serif;font-size:14px;fill:#000;'>14</text>
<clipPath id="cp"><rect x="53.0" y="263.4" width="522.2" height="182.10000000000002"/></clipPath>
<g clip-path="url(#cp)">
<circle cx="53.35" cy="287.15" r="3.05" fill="#00f"/>
<circle cx="60.65" cy="326.25" r="3.05" fill="#00f"/>
<circle cx="68.35" cy="411.75" r="3.05" fill="#00f"/>
<circle cx="76.45" cy="417.05" r="3.05" fill="#00f"/>
<circle cx="84.05" cy="349.65" r="3.05" fill="#00f"/>
<circle cx="91.75" cy="427.95" r="3.05" fill="#00f"/>
<circle cx="99.55" cy="419.45" r="3.05" fill="#00f"/>
<circle cx="107.25" cy="427.65" r="3.05" fill="#00f"/>
<circle cx="115.05" cy="419.35" r="3.05" fill="#00f"/>
<circle cx="122.95" cy="419.15" r="3.05" fill="#00f"/>
<circle cx="130.15" cy="416.15" r="3.05" fill="#00f"/>
<circle cx="138.35" cy="421.35" r="3.05" fill="#00f"/>
<circle cx="146.45" cy="416.75" r="3.05" fill="#00f"/>
<circle cx="154.15" cy="417.35" r="3.05" fill="#00f"/>
<circle cx="161.95" cy="412.25" r="3.05" fill="#00f"/>
<circle cx="169.65" cy="414.65" r="3.05" fill="#00f"/>
<circle cx="177.45" cy="420.85" r="3.05" fill="#00f"/>
<circle cx="185.15" cy="389.05" r="3.05" fill="#00f"/>
<circle cx="192.95" cy="401.65" r="3.05" fill="#00f"/>
<circle cx="200.65" cy="420.95" r="3.05" fill="#00f"/>
<circle cx="208.45" cy="417.75" r="3.05" fill="#00f"/>
<circle cx="216.25" cy="403.15" r="3.05" fill="#00f"/>
<circle cx="224.05" cy="399.45" r="3.05" fill="#00f"/>
<circle cx="231.95" cy="404.65" r="3.05" fill="#00f"/>
<circle cx="239.45" cy="400.05" r="3.05" fill="#00f"/>
<circle cx="247.45" cy="401.35" r="3.05" fill="#00f"/>
<circle cx="255.15" cy="395.35" r="3.05" fill="#00f"/>
<circle cx="262.85" cy="396.15" r="3.05" fill="#00f"/>
<circle cx="270.65" cy="399.15" r="3.05" fill="#00f"/>
<circle cx="278.45" cy="399.75" r="3.05" fill="#00f"/>
<circle cx="286.25" cy="401.45" r="3.05" fill="#00f"/>
<circle cx="294.05" cy="397.25" r="3.05" fill="#00f"/>
<circle cx="301.95" cy="389.35" r="3.05" fill="#00f"/>
<circle cx="309.45" cy="387.25" r="3.05" fill="#00f"/>
<circle cx="317.25" cy="384.95" r="3.05" fill="#00f"/>
<circle cx="325.15" cy="384.75" r="3.05" fill="#00f"/>
<circle cx="332.85" cy="381.55" r="3.05" fill="#00f"/>
<circle cx="340.65" cy="380.45" r="3.05" fill="#00f"/>
<circle cx="348.45" cy="376.25" r="3.05" fill="#00f"/>
<circle cx="356.25" cy="376.25" r="3.05" fill="#00f"/>
<circle cx="364.05" cy="363.95" r="3.05" fill="#00f"/>
<circle cx="371.85" cy="361.05" r="3.05" fill="#00f"/>
<circle cx="379.45" cy="365.25" r="3.05" fill="#00f"/>
<circle cx="387.25" cy="363.95" r="3.05" fill="#00f"/>
<circle cx="395.15" cy="361.55" r="3.05" fill="#00f"/>
<circle cx="402.85" cy="359.05" r="3.05" fill="#00f"/>
<circle cx="410.75" cy="357.75" r="3.05" fill="#00f"/>
<circle cx="418.45" cy="355.05" r="3.05" fill="#00f"/>
<circle cx="426.25" cy="351.95" r="3.05" fill="#00f"/>
<circle cx="434.05" cy="349.05" r="3.05" fill="#00f"/>
<circle cx="441.85" cy="346.95" r="3.05" fill="#00f"/>
<circle cx="449.45" cy="343.35" r="3.05" fill="#00f"/>
<circle cx="457.25" cy="334.95" r="3.05" fill="#00f"/>
<circle cx="465.15" cy="338.85" r="3.05" fill="#00f"/>
<circle cx="472.85" cy="332.05" r="3.05" fill="#00f"/>
<circle cx="480.65" cy="323.05" r="3.05" fill="#00f"/>
<circle cx="488.35" cy="318.05" r="3.05" fill="#00f"/>
<circle cx="496.15" cy="310.15" r="3.05" fill="#00f"/>
<circle cx="503.95" cy="300.05" r="3.05" fill="#00f"/>
<circle cx="511.75" cy="292.25" r="3.05" fill="#00f"/>
<circle cx="519.55" cy="280.75" r="3.05" fill="#00f"/>
</g>
<rect x="84.4" y="275.4" width="84.2" height="19.9" fill="none" stroke="#6a6a6a" stroke-width="1.1"/>
<circle cx="102.6" cy="285.8" r="3.05" fill="#00f"/>
<text x="122.65" y="290.20" style='font-family:"Liberation Sans",sans-serif;font-size:14px;fill:#000;letter-spacing:0.210px;'>BHFO</text>
<text x="437.51" y="287.80" style='font-family:"Liberation Sans",sans-serif;font-size:16px;fill:#000;letter-spacing:0.665px;'>(b)</text>
<text x="241.79" y="489.60" style='font-family:"Liberation Sans",sans-serif;font-size:16px;fill:#000;letter-spacing:0.284px;'>Electric field, kV/cm</text>
<text transform="translate(20.10,463.68) rotate(-90)" style='font-family:"Liberation Sans",sans-serif;font-size:16px;fill:#000;letter-spacing:0.083px;'>conductivity</text>
<text transform="translate(20.10,366.87) rotate(-90)" style='font-family:"Liberation Sans",sans-serif;font-size:16px;fill:#000;'>{</text>
<text transform="translate(20.10,360.68) rotate(-90)" style='font-family:"Liberation Sans",sans-serif;font-size:16px;fill:#000;'>x</text>
<text transform="translate(20.10,351.86) rotate(-90)" style='font-family:"Liberation Serif",serif;font-size:16px;fill:#000;letter-spacing:-0.634px;'>10</text>
<text transform="translate(11.70,336.40) rotate(-90)" style='font-family:"Liberation Serif",serif;font-size:16px;fill:#000;letter-spacing:0.528px;'>−12</text>
<text transform="translate(20.10,306.00) rotate(-90)" style='font-family:"Liberation Serif",serif;font-size:16px;fill:#000;'>(</text>
<text transform="translate(20.10,299.78) rotate(-90)" style='font-family:"Liberation Sans",sans-serif;font-size:16px;fill:#000;'>Ω</text>
<text transform="translate(20.10,283.28) rotate(-90)" style='font-family:"Liberation Sans",sans-serif;font-size:16px;fill:#000;letter-spacing:-0.294px;'>cm</text>
<text transform="translate(20.10,262.02) rotate(-90)" style='font-family:"Liberation Serif",serif;font-size:16px;fill:#000;'>)</text>
<text transform="translate(11.60,255.64) rotate(-90)" style='font-family:"Liberation Sans",sans-serif;font-size:10px;fill:#000;letter-spacing:-1.759px;'>-1</text>
<text transform="translate(20.10,245.77) rotate(-90)" style='font-family:"Liberation Sans",sans-serif;font-size:16px;fill:#000;'>}</text>
</svg>
</body></html>
